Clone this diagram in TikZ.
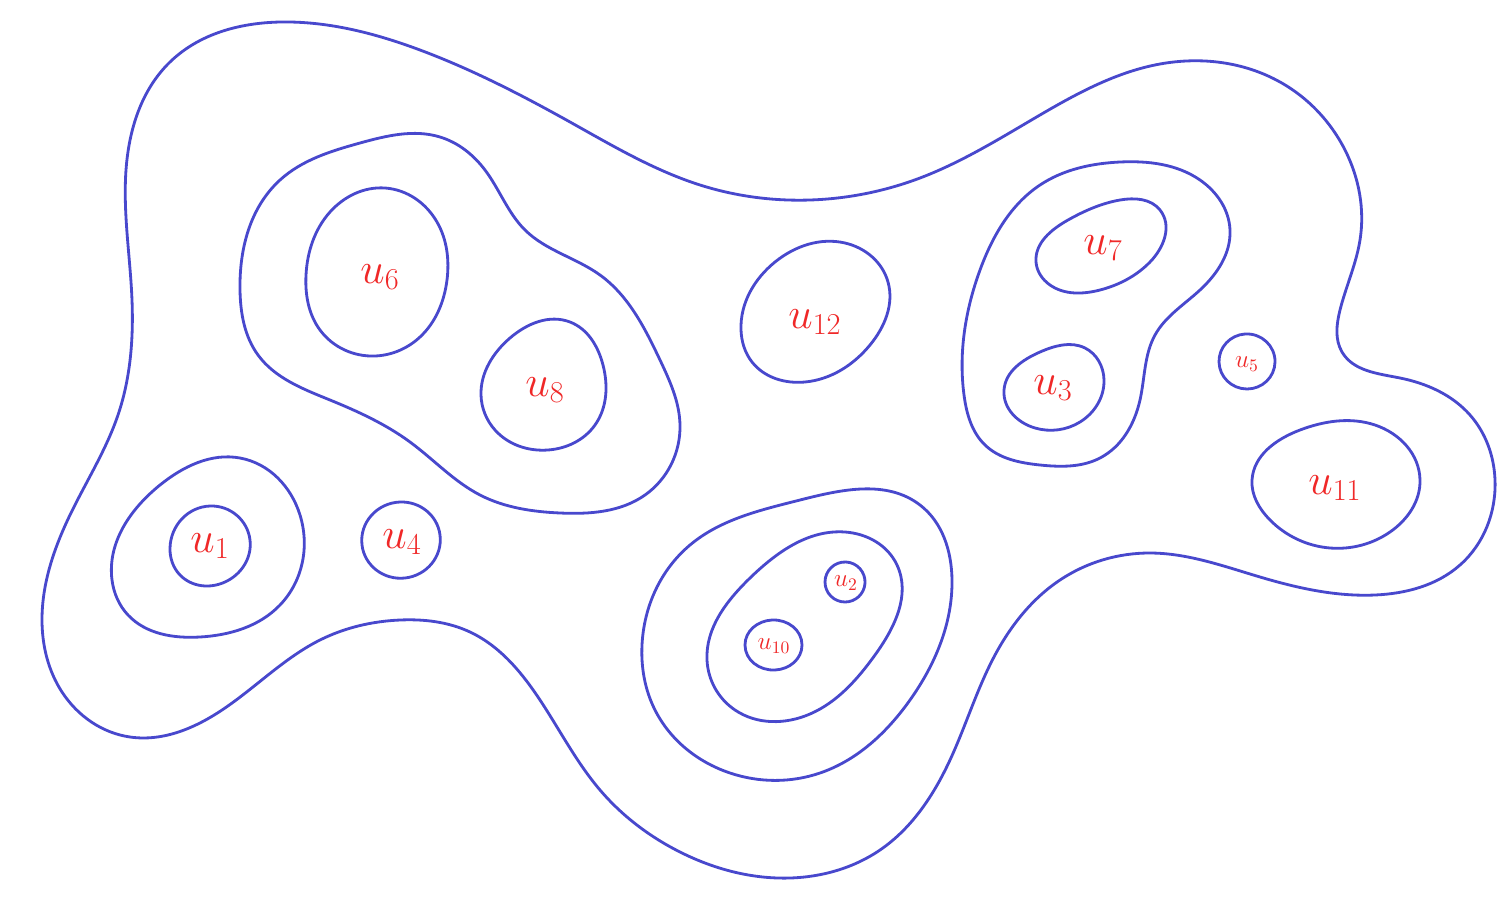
\documentclass[tikz,border=0pt]{standalone}
\usetikzlibrary{hobby}
\definecolor{penblue}{RGB}{72,72,205}
\definecolor{penred}{RGB}{240,40,40}
\tikzset{
  pen/.style={draw=penblue, line width=1.6pt, line join=round, use Hobby shortcut, closed=true},
  lab/.style={text=penred, font=\fontsize{26}{28}\selectfont, inner sep=0pt},
  slab/.style={text=penred, font=\fontsize{14}{16}\selectfont, inner sep=0pt}
}
\begin{document}
\begin{tikzpicture}[x=0.02cm,y=-0.02cm]
\useasboundingbox (0,0) rectangle (1503,906);
\fill[white] (0,0) rectangle (1503,906);
% outer boundary
\draw[pen] (126,170) .. (170,62) .. (290,22) .. (420,50) .. (570,122) .. (700,185) .. (810,200) .. (920,178) .. (1040,115) .. (1160,64) .. (1280,82) .. (1345,150) .. (1360,240) .. (1340,310) .. (1342,352) .. (1400,378) .. (1470,415) .. (1495,480) .. (1460,565) .. (1375,595) .. (1260,577) .. (1150,553) .. (1060,580) .. (995,655) .. (950,760) .. (880,850) .. (790,878) .. (680,852) .. (600,790) .. (540,700) .. (470,632) .. (400,620) .. (320,640) .. (225,708) .. (130,737) .. (62,692) .. (42,620) .. (70,515) .. (118,415) .. (132,300);
% group around u6, u8
\draw[pen] (240,290) .. (280,180) .. (360,143) .. (440,137) .. (485,170) .. (525,230) .. (600,275) .. (660,360) .. (680,425) .. (645,495) .. (560,513) .. (480,495) .. (410,442) .. (330,400) .. (258,355);
% u6
\draw[pen] (306,275) .. (330,212) .. (385,188) .. (437,222) .. (447,280) .. (420,337) .. (375,356) .. (320,330);
\node[lab] (u6) at (380,277) {$u_{6}$};
% u8
\draw[pen] (481,395) .. (510,338) .. (570,322) .. (603,365) .. (595,425) .. (548,450) .. (495,430);
\node[lab] (u8) at (545,390) {$u_{8}$};
% u12
\draw[pen] (741,330) .. (775,262) .. (845,243) .. (888,282) .. (870,345) .. (805,382) .. (752,362);
\node[lab] (u12) at (815,322) {$u_{12}$};
% group around u7, u3
\draw[pen] (964,395) .. (980,270) .. (1040,185) .. (1120,162) .. (1200,180) .. (1230,230) .. (1200,290) .. (1155,335) .. (1140,400) .. (1100,458) .. (1040,465) .. (985,445);
% u7
\draw[pen] (1036,262) .. (1068,220) .. (1120,200) .. (1160,210) .. (1150,262) .. (1100,290) .. (1050,285);
\node[lab] (u7) at (1103,248) {$u_{7}$};
% u3
\draw[pen] (1004,390) .. (1040,352) .. (1085,348) .. (1104,380) .. (1080,422) .. (1035,428);
\node[lab] (u3) at (1053,388) {$u_{3}$};
% u5
\draw[pen] (1219,362) .. (1245,334) .. (1275,362) .. (1247,389);
\node[slab] (u5) at (1247,364) {$u_{5}$};
% u11
\draw[pen] (1252,480) .. (1300,430) .. (1375,425) .. (1420,480) .. (1390,532) .. (1330,548) .. (1270,520);
\node[lab] (u11) at (1335,488) {$u_{11}$};
% u1 group
\draw[pen] (112,580) .. (160,485) .. (240,458) .. (300,515) .. (280,605) .. (200,637) .. (128,615);
\draw[pen] (170,548) .. (210,506) .. (250,540) .. (225,582) .. (180,575);
\node[lab] (u1) at (210,546) {$u_{1}$};
% u4
\draw[pen] (362,545) .. (400,502) .. (440,535) .. (405,578);
\node[lab] (u4) at (402,542) {$u_{4}$};
% bottom group
\draw[pen] (642,645) .. (690,545) .. (800,500) .. (920,505) .. (952,580) .. (910,700) .. (820,773) .. (730,773) .. (655,710);
\draw[pen] (707,660) .. (750,578) .. (845,532) .. (897,565) .. (875,655) .. (810,714) .. (735,710);
% u2
\draw[pen] (825,582) .. (846,562) .. (865,583) .. (845,602);
\node[slab] (u2) at (846,583) {$u_{2}$};
% u10
\draw[pen] (745,645) .. (772,620) .. (802,645) .. (775,670);
\node[slab] (u10) at (774,646) {$u_{10}$};
\end{tikzpicture}
\end{document}
